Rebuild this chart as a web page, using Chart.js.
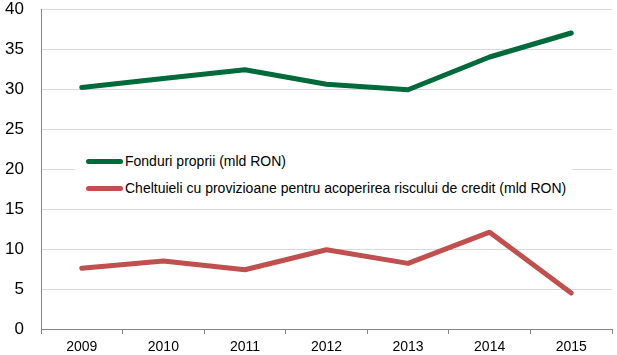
<!DOCTYPE html>
<html>
<head>
<meta charset="utf-8">
<script src="https://cdn.jsdelivr.net/npm/chart.js@4.4.1/dist/chart.umd.min.js"></script>
<style>
  html, body { margin: 0; padding: 0; background: #fff; }
  #wrap { position: relative; width: 617px; height: 355px; }
  #legend { position: absolute; left: 75px; top: 147px; width: 497px; height: 55px; background: #fff;
            font-family: "Liberation Sans", Arial, sans-serif; font-size: 14px; color: #000; }
  .row { position: absolute; left: 11px; height: 16px; display: flex; align-items: center; white-space: nowrap; }
  .sw { width: 37px; height: 5px; border-radius: 3px; margin-right: 2px; }
</style>
</head>
<body>
<div id="wrap">
  <canvas id="c" width="617" height="355"></canvas>
  <div id="legend"></div>
</div>
<script>
const categories = ['2009', '2010', '2011', '2012', '2013', '2014', '2015'];
const fonduriProprii = [30.2, 31.3, 32.4, 30.6, 29.9, 34.0, 37.0];
const cheltuieliProvizioane = [7.6, 8.5, 7.4, 9.9, 8.2, 12.1, 4.5];
const seriesNames = ['Fonduri proprii (mld RON)', 'Cheltuieli cu provizioane pentru acoperirea riscului de credit (mld RON)'];
const seriesColors = ['#006a3b', '#c0504d'];
const yTicks = [0, 5, 10, 15, 20, 25, 30, 35, 40];

const font = "'Liberation Sans', Arial, sans-serif";

const legend = document.getElementById('legend');
seriesNames.forEach((name, i) => {
  const row = document.createElement('div');
  row.className = 'row';
  row.style.top = (i === 0 ? 6 : 33) + 'px';
  const sw = document.createElement('div');
  sw.className = 'sw';
  sw.style.background = seriesColors[i];
  const t = document.createElement('span');
  t.textContent = name;
  row.appendChild(sw);
  row.appendChild(t);
  legend.appendChild(row);
});

new Chart(document.getElementById('c'), {
  type: 'line',
  data: {
    labels: categories,
    datasets: [
      { label: seriesNames[0], data: fonduriProprii, borderColor: seriesColors[0], backgroundColor: seriesColors[0],
        borderWidth: 5, pointRadius: 0, tension: 0, borderCapStyle: 'round', borderJoinStyle: 'round' },
      { label: seriesNames[1], data: cheltuieliProvizioane, borderColor: seriesColors[1], backgroundColor: seriesColors[1],
        borderWidth: 5, pointRadius: 0, tension: 0, borderCapStyle: 'round', borderJoinStyle: 'round' }
    ]
  },
  options: {
    responsive: false,
    animation: false,
    devicePixelRatio: 1,
    layout: { padding: { top: 9, right: 5, left: 0, bottom: 0 } },
    plugins: { legend: { display: false }, tooltip: { enabled: false } },
    scales: {
      x: {
        offset: true,
        grid: { offset: true, drawOnChartArea: false, drawTicks: true, tickLength: 5, color: '#868686' },
        border: { color: '#868686', width: 1 },
        ticks: { color: '#000', font: { family: font, size: 14 }, padding: 5, maxRotation: 0 },
        afterFit: (a) => { a.height = 26; a.paddingLeft = 0; a.paddingRight = 0; }
      },
      y: {
        min: 0, max: 40,
        afterBuildTicks: (a) => { a.ticks = yTicks.map(v => ({ value: v })); },
        grid: { color: '#d9d9d9', drawTicks: false },
        border: { color: '#868686', width: 1 },
        ticks: { color: '#000', font: { family: font, size: 17 }, padding: 17 },
        afterFit: (a) => { a.width = 41; a.paddingTop = 0; a.paddingBottom = 0; }
      }
    }
  }
});
</script>
</body>
</html>
